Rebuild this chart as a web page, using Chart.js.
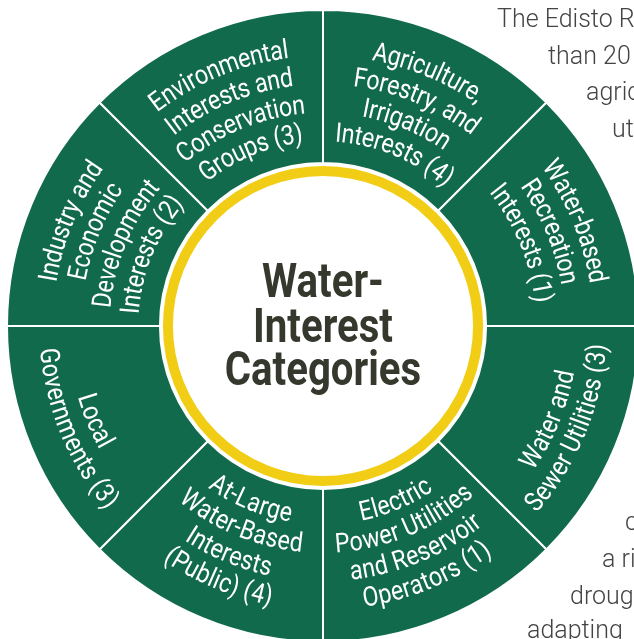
<!DOCTYPE html>
<html>
<head>
<meta charset="utf-8">
<title>Water-Interest Categories</title>
<script src="https://cdn.jsdelivr.net/npm/chart.js@4.4.1/dist/chart.umd.min.js"></script>
<style>
    html, body { margin: 0; padding: 0; width: 634px; height: 639px; overflow: hidden; background: #fff; }
    #wrap { position: relative; width: 634px; height: 639px; overflow: hidden; }
    #chart { position: absolute; left: 0; top: 0; }
    .txt { position: absolute; font-family: Roboto, sans-serif; font-weight: 300; font-size: 25px; line-height: 25px; color: #444444; white-space: nowrap; }
</style>
</head>
<body>
<div id="wrap">
    <canvas id="chart" width="646" height="652"></canvas>
    <!-- bits of the article text that wraps around the wheel -->
    <div class="txt" style="left:497px;top:6px">The Edisto R</div>
    <div class="txt" style="left:548px;top:43px">than 20</div>
    <div class="txt" style="left:586px;top:79px">agric</div>
    <div class="txt" style="left:612px;top:116px">ut</div>
    <div class="txt" style="left:625px;top:509px">c</div>
    <div class="txt" style="left:602px;top:546px">a ri</div>
    <div class="txt" style="left:570px;top:583px">droug</div>
    <div class="txt" style="left:527px;top:617px">adapting</div>
</div>
<script>
// Categories, clockwise from 12 o'clock (already split in lines)
var categories = [
    ['Agriculture,', 'Forestry, and', 'Irrigation', 'Interests'],
    ['Water-based', 'Recreation', 'Interests'],
    ['Water and', 'Sewer Utilities'],
    ['Electric', 'Power Utilities', 'and Reservoir', 'Operators'],
    ['At-Large', 'Water-Based', 'Interests', '(Public)'],
    ['Local', 'Governments'],
    ['Industry and', 'Economic', 'Development', 'Interests'],
    ['Environmental', 'Interests and', 'Conservation', 'Groups']
];
// number of members in each category
var counts = [4, 1, 3, 1, 4, 3, 2, 3];
// every category gets the same slice of the wheel
var sliceWeights = [1, 1, 1, 1, 1, 1, 1, 1];
var centerTitle = ['Water-', 'Interest', 'Categories'];

var green = '#116a4b';
var yellow = '#f2cd15';

// Draws one line of text bent along a circle
function drawArcLine(ctx, text, cx, cy, r, mid, top, sx) {
    var chars = text.split('');
    var widths = chars.map(function (ch) { return ctx.measureText(ch).width * sx; });
    var total = widths.reduce(function (a, b) { return a + b; }, 0);
    var a = top ? mid - total / (2 * r) : mid + total / (2 * r);
    for (var i = 0; i < chars.length; i++) {
        var half = widths[i] / 2 / r;
        a += top ? half : -half;
        ctx.save();
        ctx.translate(cx + r * Math.cos(a), cy + r * Math.sin(a));
        ctx.rotate(top ? a + Math.PI / 2 : a - Math.PI / 2);
        ctx.scale(sx, 1);
        ctx.fillText(chars[i], 0, 0);
        ctx.restore();
        a += top ? half : -half;
    }
}

var wheelPlugin = {
    id: 'wheelText',
    afterDatasetsDraw: function (chart) {
        var ctx = chart.ctx;
        var arcs = chart.getDatasetMeta(0).data;
        var cx = arcs[0].x, cy = arcs[0].y;
        var inner = arcs[0].innerRadius, outer = arcs[0].outerRadius;

        // yellow ring inside the hole
        ctx.save();
        ctx.beginPath();
        ctx.arc(cx, cy, inner - 8, 0, Math.PI * 2);
        ctx.lineWidth = 10;
        ctx.strokeStyle = yellow;
        ctx.stroke();

        // segment labels
        ctx.fillStyle = '#ffffff';
        ctx.font = '400 27px Roboto';
        ctx.textAlign = 'center';
        ctx.textBaseline = 'middle';
        var lineGap = 28.5;
        arcs.forEach(function (arc, i) {
            var mid = (arc.startAngle + arc.endAngle) / 2;
            var top = Math.sin(mid) < 0;
            var lines = categories[i].slice();
            lines[lines.length - 1] += ' (' + counts[i] + ')';
            var n = lines.length;
            var rOut = outer - 39;
            lines.forEach(function (line, j) {
                var r = top ? rOut - j * lineGap : rOut - (n - 1 - j) * lineGap;
                drawArcLine(ctx, line, cx, cy, r, mid, top, 0.86);
            });
        });

        // title in the middle
        ctx.fillStyle = '#35382c';
        ctx.font = 'bold 49px Roboto';
        ctx.textBaseline = 'alphabetic';
        var offs = [-29, 16, 59];
        centerTitle.forEach(function (t, k) {
            ctx.save();
            ctx.translate(cx, cy + offs[k]);
            ctx.scale(0.82, 1);
            ctx.fillText(t, 0, 0);
            ctx.restore();
        });
        ctx.restore();
    }
};

var ctx = document.getElementById('chart').getContext('2d');
var myChart = new Chart(ctx, {
    type: 'doughnut',
    data: {
        labels: categories.map(function (c) { return c.join(' '); }),
        datasets: [{
            data: sliceWeights,
            backgroundColor: green,
            borderColor: '#ffffff',
            borderWidth: 2,
            hoverOffset: 0
        }]
    },
    options: {
        responsive: false,
        animation: false,
        events: [],
        radius: 316,
        cutout: '51.6%',
        layout: { padding: 0 },
        plugins: {
            legend: { display: false },
            tooltip: { enabled: false }
        }
    },
    plugins: [wheelPlugin]
});
</script>
</body>
</html>
